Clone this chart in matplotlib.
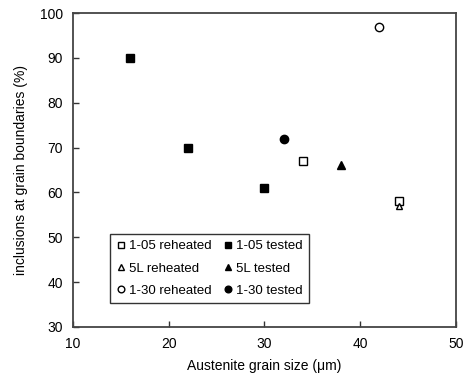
import matplotlib
matplotlib.use("Agg")
import matplotlib.pyplot as plt

plt.rcParams['font.family'] = ['Liberation Sans', 'DejaVu Sans']

# Data
x_105_reh = [34, 44]
y_105_reh = [67, 58]
x_105_tst = [16, 22, 30]
y_105_tst = [90, 70, 61]
x_5l_reh = [44]
y_5l_reh = [57]
x_5l_tst = [38]
y_5l_tst = [66]
x_130_reh = [42]
y_130_reh = [97]
x_130_tst = [32]
y_130_tst = [72]

fig = plt.figure(figsize=(4.64, 3.85), dpi=100)
ax = fig.add_axes([0.157, 0.151, 0.826, 0.815])

ms = 6
h1 = ax.plot(x_105_reh, y_105_reh, ls='none', marker='s', mfc='white', mec='black', mew=1.0, ms=ms, label='1-05 reheated')[0]
h4 = ax.plot(x_105_tst, y_105_tst, ls='none', marker='s', mfc='black', mec='black', ms=ms, label='1-05 tested')[0]
h2 = ax.plot(x_5l_reh, y_5l_reh, ls='none', marker='^', mfc='white', mec='black', mew=1.0, ms=ms - 1, label='5L reheated')[0]
h5 = ax.plot(x_5l_tst, y_5l_tst, ls='none', marker='^', mfc='black', mec='black', ms=ms, label='5L tested')[0]
h3 = ax.plot(x_130_reh, y_130_reh, ls='none', marker='o', mfc='white', mec='black', mew=1.0, ms=ms, label='1-30 reheated')[0]
h6 = ax.plot(x_130_tst, y_130_tst, ls='none', marker='o', mfc='black', mec='black', ms=ms, label='1-30 tested')[0]

ax.set_xlim(10, 50)
ax.set_ylim(30, 100)
ax.set_xticks([10, 20, 30, 40, 50])
ax.set_yticks([30, 40, 50, 60, 70, 80, 90, 100])
ax.tick_params(direction='in', length=4, width=1, colors='#333333', labelsize=10, labelcolor='black', pad=7)
ax.tick_params(axis='x', top=False)
ax.tick_params(axis='y', right=False)
for s in ax.spines.values():
    s.set_color('#444444')
    s.set_linewidth(1.3)

ax.set_xlabel('Austenite grain size (μm)', fontsize=10, labelpad=6)
ax.set_ylabel('inclusions at grain boundaries (%)', fontsize=10, labelpad=9)

leg = ax.legend(handles=[h1, h2, h3, h4, h5, h6], ncol=2, loc='lower left',
                bbox_to_anchor=(0.097, 0.075), fontsize=9.5, frameon=True, fancybox=False,
                edgecolor='black', handlelength=0.6, handletextpad=0.35, columnspacing=0.9,
                labelspacing=0.75, borderpad=0.5, markerscale=0.8, borderaxespad=0)
leg.get_frame().set_linewidth(1.0)

fig.savefig('out.png', dpi=100)
